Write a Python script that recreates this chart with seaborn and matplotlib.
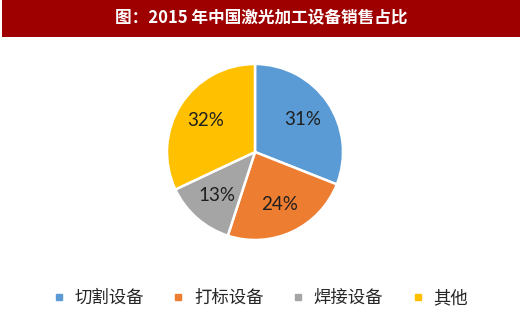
import matplotlib
matplotlib.use("Agg")
import matplotlib.pyplot as plt
import seaborn as sns
from matplotlib.patches import Rectangle
from matplotlib.lines import Line2D

sns.set_theme(style="white")
plt.rcParams['font.family'] = ['Noto Sans CJK SC', 'DejaVu Sans']

title = "图：2015 年中国激光加工设备销售占比"
categories = ["切割设备", "打标设备", "焊接设备", "其他"]
values = [31, 24, 13, 32]
colors = ["#5B9BD5", "#ED7D31", "#A5A5A5", "#FFC000"]

fig = plt.figure(figsize=(5.2, 3.17), dpi=100)
fig.patch.set_facecolor("white")

# title bar
fig.patches.append(Rectangle((2/520, 1 - 37/317), 518/520, 37/317,
                             transform=fig.transFigure, facecolor="#9E0000",
                             edgecolor="none", zorder=0))
fig.text(261/520, 1 - 17/317, title, color="white", fontsize=12,
         fontweight="bold", ha="center", va="center")

cx, cy, r = 255, 152, 88
ax = fig.add_axes([(cx - r)/520, 1 - (cy + r)/317, 2*r/520, 2*r/317])
wedges, texts, autotexts = ax.pie(
    values, colors=colors, startangle=90, counterclock=False,
    autopct="%d%%", pctdistance=0.66,
    wedgeprops=dict(edgecolor="white", linewidth=1.8),
    textprops=dict(fontsize=13.5, color="#1f1f1f", family=["Lato", "DejaVu Sans"]))
ax.set_xlim(-1, 1)
ax.set_ylim(-1, 1)
ax.set_aspect("auto")
ax.axis("off")

handles = [Line2D([], [], marker="s", linestyle="none", markersize=5,
                  markerfacecolor=c, markeredgecolor=c) for c in colors]
fig.legend(handles, categories, loc="center", bbox_to_anchor=(260/520, 1 - 298/317),
           ncol=4, frameon=False, fontsize=12.5, handlelength=0.8,
           handletextpad=0.5, columnspacing=1.6)

fig.savefig("out.png", dpi=100)
